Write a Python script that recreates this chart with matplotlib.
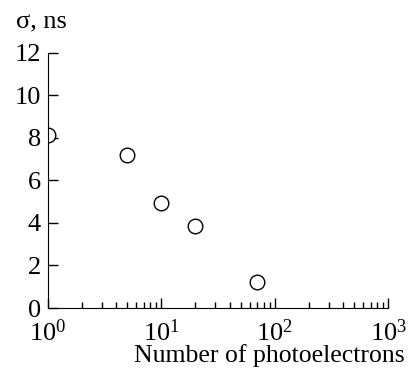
import numpy as np
import matplotlib
matplotlib.use('Agg')
import matplotlib.pyplot as plt
from matplotlib.ticker import LogLocator, FixedLocator

plt.rcParams['font.family'] = 'Liberation Serif'
plt.rcParams['mathtext.fontset'] = 'custom'
plt.rcParams['mathtext.rm'] = 'Liberation Serif'
plt.rcParams['mathtext.it'] = 'Liberation Serif:italic'

# data
photoelectrons = [1, 5, 10, 20, 70]
sigma_ns = [8.15, 7.2, 4.95, 3.85, 1.22]

fig = plt.figure(figsize=(4.09, 3.72), dpi=100)
ax = fig.add_axes([0.117, 0.172, 0.832, 0.686])

ax.plot(photoelectrons, sigma_ns, 'o', mfc='white', mec='black', ms=10.5, mew=1.0)

ax.set_xscale('log')
ax.set_xlim(1, 1000)
ax.set_ylim(0, 12)
ax.set_yticks([0, 2, 4, 6, 8, 10, 12])
ax.xaxis.set_major_locator(FixedLocator([1, 10, 100, 1000]))
ax.xaxis.set_minor_locator(LogLocator(base=10, subs=np.arange(2, 10)))
ax.set_xticklabels(['$10^0$', '$10^1$', '$10^2$', '$10^3$'])

ax.spines['top'].set_visible(False)
ax.spines['right'].set_visible(False)
ax.tick_params(direction='in', which='major', length=7, width=1, labelsize=19)
ax.tick_params(direction='in', which='minor', length=4, width=1)
ax.tick_params(axis='y', which='major', pad=5)
ax.tick_params(axis='x', which='major', pad=8)

fig.text(0.04, 0.94, 'σ, ns', fontsize=19, ha='left', va='center')
fig.text(0.99, 0.045, 'Number of photoelectrons', fontsize=18.5, ha='right', va='center')

fig.savefig('out.png', dpi=100)
